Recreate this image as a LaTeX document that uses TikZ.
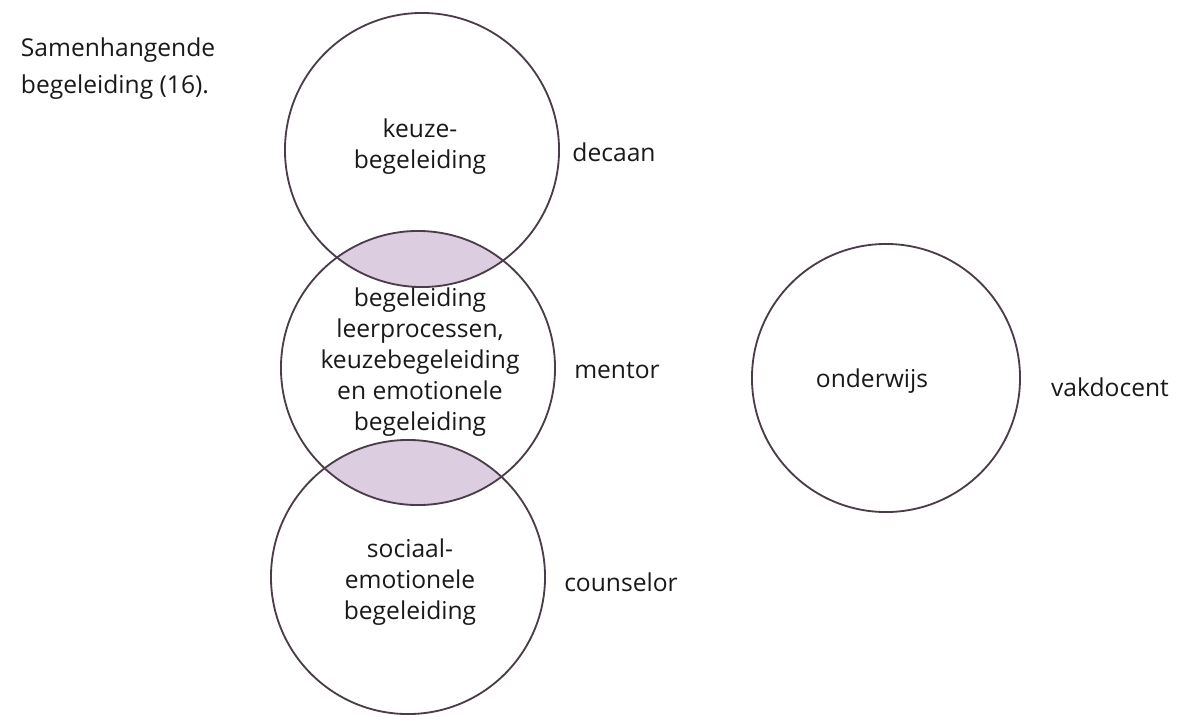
\documentclass[tikz,border=0pt]{standalone}
\usepackage{fontspec}
\setmainfont{Open Sans}
\usetikzlibrary{positioning}
\definecolor{ringline}{HTML}{4B3C4A}
\definecolor{lensfill}{HTML}{DDCDE1}

\begin{document}
\begin{tikzpicture}[x=0.025cm, y=-0.025cm,
    ring/.style={circle, draw=ringline, line width=1.3pt, minimum size=6.85cm, inner sep=0pt},
    txt/.style={align=center, font=\fontsize{17.5}{22}\selectfont, text=black!90},
    ttl/.style={align=left, anchor=north west, font=\fontsize{17.5}{26.5}\selectfont, text=black!90}]
                    \useasboundingbox (0, 0) rectangle (1192, 726);
                    % lens fills between the stacked circles
                    \begin{scope}
                        \clip (422, 150) circle (137);
                        \fill[lensfill] (418, 368) circle (137);
                    \end{scope}
                    \begin{scope}
                        \clip (418, 368) circle (137);
                        \fill[lensfill] (408, 577) circle (137);
                    \end{scope}
                    \node[ring] (kz) at (422, 150) {};
                    \node[ring] (lp) at (418, 368) {};
                    \node[ring] (se) at (408, 577) {};
                    \node[ring, minimum size=6.7cm] (ow) at (886, 378) {};
                    \node[ttl] (tt) at (16, 33) {Samenhangende\\begeleiding (16).};
                    \node[txt] (kzt) at (420, 147) {keuze-\\begeleiding};
                    \node[txt] (dc) at (614, 152) {decaan};
                    \node[txt] (lpt) at (420, 362) {begeleiding\\leerprocessen,\\keuzebegeleiding\\en emotionele\\begeleiding};
                    \node[txt] (mt) at (617, 371) {mentor};
                    \node[txt] (owt) at (872, 381) {onderwijs};
                    \node[txt] (vd) at (1110, 387) {vakdocent};
                    \node[txt] (set) at (410, 582) {sociaal-\\emotionele\\begeleiding};
                    \node[txt] (cs) at (621, 582) {counselor};
                \end{tikzpicture}
\end{document}
